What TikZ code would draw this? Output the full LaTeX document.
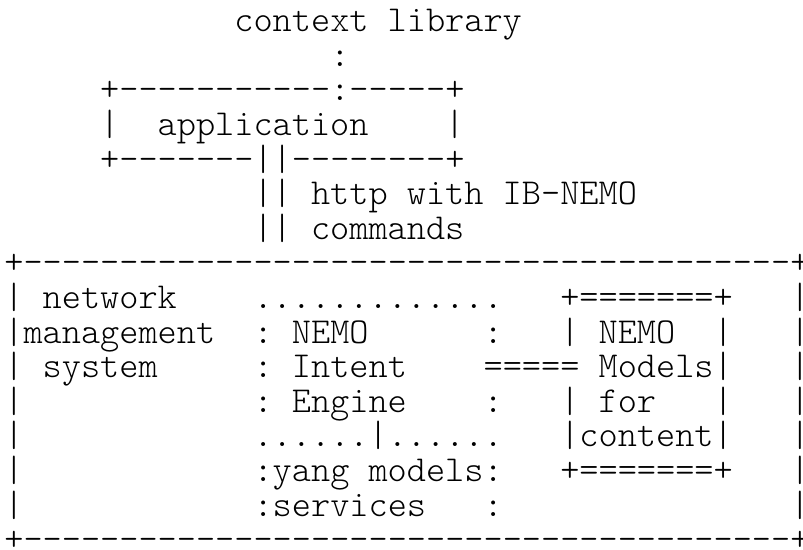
\documentclass[tikz,border=0pt]{standalone}
\ExplSyntaxOn
% repeat one character, each copy boxed so no ligatures form
\NewDocumentCommand\rep{mm}{\prg_replicate:nn{#1}{\hbox{#2}}}
\ExplSyntaxOff
\tikzset{
  row/.style={anchor=base west, inner sep=0pt, outer sep=0pt,
    font=\fontsize{36.51}{40}\ttfamily\fontseries{l}\selectfont}
}
\begin{document}
\begin{tikzpicture}[x=1pt,y=1pt]
  \useasboundingbox (0,0) rectangle (803,-549);
  \def\xo{4.4}
  \def\pitch{34.6}
  \def\yo{31.7}
  \foreach \n/\t in {
    1/{\rep{12}{~}context~library},
    2/{\rep{17}{~}:},
    3/{\rep{5}{~}+\rep{11}{-}:\rep{5}{-}+},
    4/{\rep{5}{~}|\rep{2}{~}application\rep{4}{~}|},
    5/{\rep{5}{~}+\rep{7}{-}||\rep{8}{-}+},
    6/{\rep{13}{~}||~http~with~IB-NEMO},
    7/{\rep{13}{~}||~commands},
    8/{+\rep{40}{-}+},
    9/{|~network\rep{4}{~}\rep{13}{.}\rep{3}{~}+\rep{7}{=}+\rep{3}{~}|},
    10/{|management\rep{2}{~}:~NEMO\rep{6}{~}:\rep{3}{~}|~NEMO\rep{2}{~}|\rep{3}{~}|},
    11/{|~system\rep{5}{~}:~Intent\rep{4}{~}\rep{5}{=}~Models|\rep{3}{~}|},
    12/{|\rep{12}{~}:~Engine\rep{4}{~}:\rep{3}{~}|~for\rep{3}{~}|\rep{3}{~}|},
    13/{|\rep{12}{~}\rep{6}{.}|\rep{6}{.}\rep{3}{~}|content|\rep{3}{~}|},
    14/{|\rep{12}{~}:yang~models:\rep{3}{~}+\rep{7}{=}+\rep{3}{~}|},
    15/{|\rep{12}{~}:services\rep{3}{~}:\rep{15}{~}|},
    16/{+\rep{40}{-}+}}
  {
    \node[row] (line\n) at (\xo, {-\yo-(\n-1)*\pitch}) {\t};
  }
\end{tikzpicture}
\end{document}
